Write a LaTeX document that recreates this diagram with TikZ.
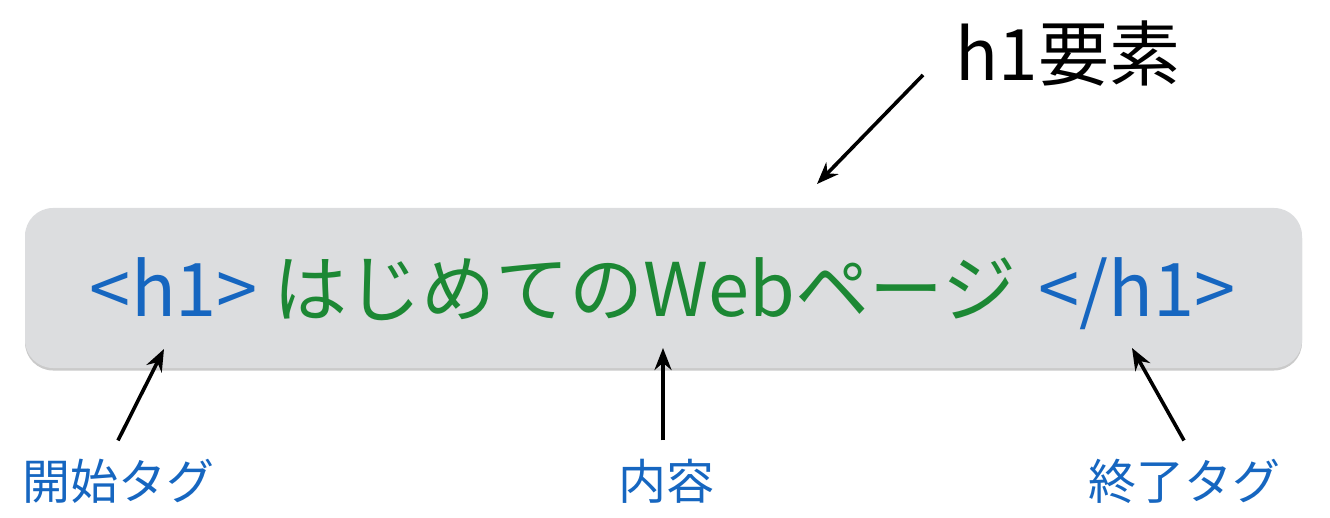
\documentclass[tikz,border=0pt]{standalone}
\usepackage{fontspec}
\setmainfont{Noto Sans CJK JP}
\usetikzlibrary{arrows.meta,shadows}
\definecolor{boxgray}{RGB}{220,221,223}
\definecolor{tagblue}{RGB}{22,102,192}
\definecolor{txtgreen}{RGB}{28,136,52}
\tikzset{
  arr/.style={line width=3.6pt,-{Stealth[length=22pt,width=17pt]}},
  main/.style={font=\fontsize{74}{84}\selectfont,anchor=base,inner sep=0pt},
  lab/.style={font=\fontsize{48}{54}\selectfont,text=tagblue,anchor=base,inner sep=0pt},
}
\begin{document}
\begin{tikzpicture}[x=1pt,y=-1pt]
\useasboundingbox (0,0) rectangle (1330,518);
\node[name=box,draw=none,fill=boxgray,rounded corners=28pt,minimum width=1277pt,minimum height=160pt,
  drop shadow={shadow xshift=0pt,shadow yshift=-2.5pt,opacity=0.35,fill=black!60}] at (663.5,288) {};
\node[main,text=tagblue] (open) at (174,317) {<h1>};
\node[main,text=txtgreen] (content) at (645,317) {はじめてのWebページ};
\node[main,text=tagblue] (close) at (1137,317) {</h1>};
\node[font=\fontsize{71}{80}\selectfont,anchor=base,inner sep=0pt] (elem) at (1068,81) {h1要素};
\node[lab] (lopen) at (118,499) {開始タグ};
\node[lab] (lcont) at (666,499) {内容};
\node[lab] (lclose) at (1184,499) {終了タグ};
\coordinate (topstart) at (923,75);
\coordinate (toptip) at (817,184);
\coordinate (t1) at (164,349);
\coordinate (t2) at (663,348);
\coordinate (t3) at (1132,348);
\draw[arr] (topstart) -- (toptip);
\draw[arr] ([yshift=18pt]lopen.north) -- (t1);
\draw[arr] ([xshift=-3pt,yshift=18pt]lcont.north) -- (t2);
\draw[arr] ([yshift=18pt]lclose.north) -- (t3);
\end{tikzpicture}
\end{document}
